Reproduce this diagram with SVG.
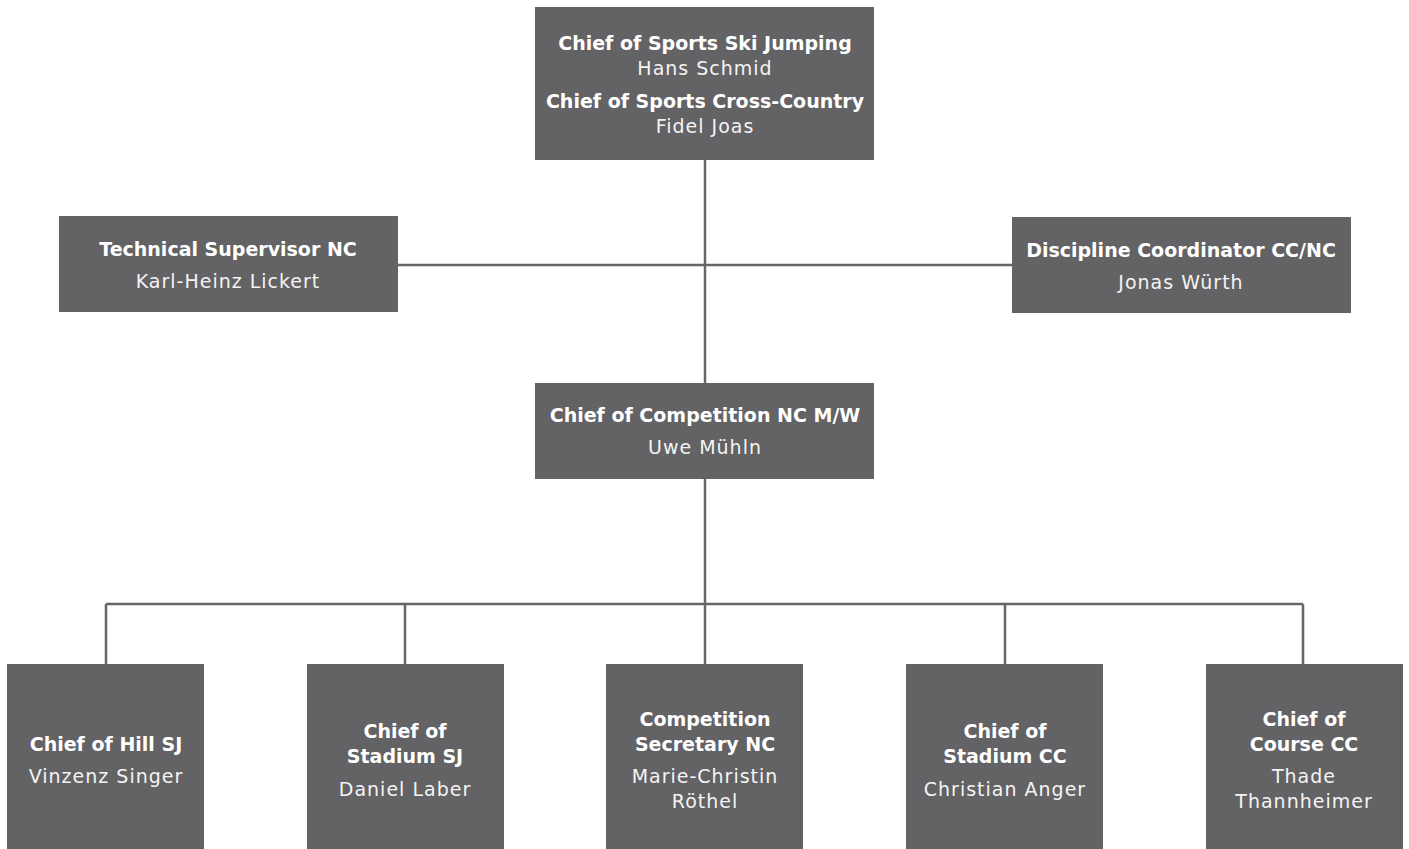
<svg xmlns="http://www.w3.org/2000/svg" width="1409" height="849" viewBox="0 0 1409 849">
<style>
.box{fill:#636264}
.t{font-family:"DejaVu Sans","Liberation Sans",sans-serif;font-size:19px;text-anchor:middle;fill:#ffffff;font-weight:600}
.n{font-family:"DejaVu Sans","Liberation Sans",sans-serif;font-size:19px;text-anchor:middle;fill:#f4f4f4;font-weight:400;letter-spacing:1px}
.c{stroke:#666567;stroke-width:2.5;fill:none}
</style>
<rect width="1409" height="849" fill="#ffffff"/>
<g id="connectors">
<path class="c" d="M705 160V383"/>
<path class="c" d="M398 265H1012"/>
<path class="c" d="M705 479V664"/>
<path class="c" d="M106 604H1303"/>
<path class="c" d="M106 604V664M405 604V664M1005 604V664M1303 604V664"/>
</g>
<g id="n-chief-sports">
<rect class="box" x="535" y="7" width="339" height="153"/>
<text class="t" x="705" y="50">Chief of Sports Ski Jumping</text>
<text class="n" x="705" y="75">Hans Schmid</text>
<text class="t" x="705" y="108">Chief of Sports Cross-Country</text>
<text class="n" x="705" y="133">Fidel Joas</text>
</g>
<g id="n-tech-supervisor">
<rect class="box" x="59" y="216" width="339" height="96"/>
<text class="t" x="228" y="256">Technical Supervisor NC</text>
<text class="n" x="228" y="288">Karl-Heinz Lickert</text>
</g>
<g id="n-discipline">
<rect class="box" x="1012" y="217" width="339" height="96"/>
<text class="t" x="1181" y="257">Discipline Coordinator CC/NC</text>
<text class="n" x="1181" y="289">Jonas Würth</text>
</g>
<g id="n-competition">
<rect class="box" x="535" y="383" width="339" height="96"/>
<text class="t" x="705" y="422">Chief of Competition NC M/W</text>
<text class="n" x="705" y="454">Uwe Mühln</text>
</g>
<g id="n-hill">
<rect class="box" x="7" y="664" width="197" height="185"/>
<text class="t" x="106" y="751">Chief of Hill SJ</text>
<text class="n" x="106" y="783">Vinzenz Singer</text>
</g>
<g id="n-stadium-sj">
<rect class="box" x="307" y="664" width="197" height="185"/>
<text class="t" x="405" y="738">Chief of</text>
<text class="t" x="405" y="763">Stadium SJ</text>
<text class="n" x="405" y="796">Daniel Laber</text>
</g>
<g id="n-secretary">
<rect class="box" x="606" y="664" width="197" height="185"/>
<text class="t" x="705" y="726">Competition</text>
<text class="t" x="705" y="751">Secretary NC</text>
<text class="n" x="705" y="783">Marie-Christin</text>
<text class="n" x="705" y="808">Röthel</text>
</g>
<g id="n-stadium-cc">
<rect class="box" x="906" y="664" width="197" height="185"/>
<text class="t" x="1005" y="738">Chief of</text>
<text class="t" x="1005" y="763">Stadium CC</text>
<text class="n" x="1005" y="796">Christian Anger</text>
</g>
<g id="n-course">
<rect class="box" x="1206" y="664" width="197" height="185"/>
<text class="t" x="1304" y="726">Chief of</text>
<text class="t" x="1304" y="751">Course CC</text>
<text class="n" x="1304" y="783">Thade</text>
<text class="n" x="1304" y="808">Thannheimer</text>
</g>
</svg>
